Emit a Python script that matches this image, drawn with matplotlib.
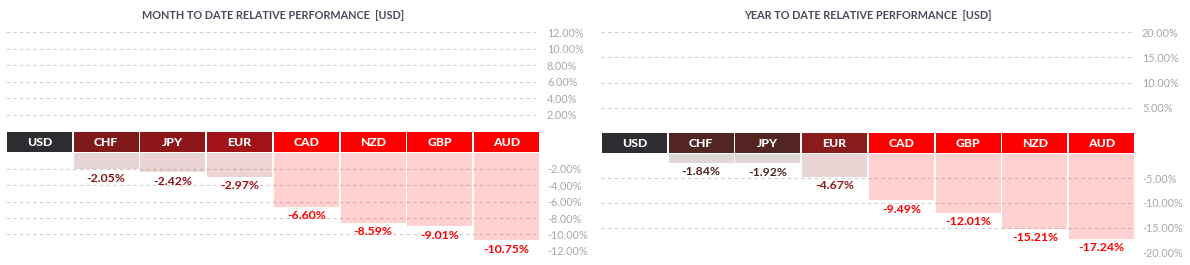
import numpy as np
import matplotlib
matplotlib.use('Agg')
import matplotlib.pyplot as plt
from matplotlib import font_manager as fm

plt.rcParams['font.family'] = ['Lato', 'DejaVu Sans']

# month to date
mtd_ccy = ['USD', 'CHF', 'JPY', 'EUR', 'CAD', 'NZD', 'GBP', 'AUD']
mtd_val = [0.0, -2.05, -2.42, -2.97, -6.60, -8.59, -9.01, -10.75]
mtd_colors = ['#2e2c30', '#7f1a1a', '#8e1619', '#a01418', '#ff0000', '#ff0000', '#ff0000', '#ff0000']
mtd_pos_ticks = [2, 4, 6, 8, 10, 12]
mtd_neg_ticks = [-2, -4, -6, -8, -10, -12]

# year to date
ytd_ccy = ['USD', 'CHF', 'JPY', 'EUR', 'CAD', 'GBP', 'NZD', 'AUD']
ytd_val = [0.0, -1.84, -1.92, -4.67, -9.49, -12.01, -15.21, -17.24]
ytd_colors = ['#2e2c30', '#522422', '#522422', '#8b1a1a', '#ff0000', '#ff0000', '#ff0000', '#ff0000']
ytd_pos_ticks = [5, 10, 15, 20]
ytd_neg_ticks = [-5, -10, -15, -20]

GRID = '#cfcfcf'
TICK = '#a8a8a8'


def lato(fname, size):
    for f in fm.fontManager.ttflist:
        if f.fname.endswith(fname):
            return fm.FontProperties(fname=f.fname, size=size)
    return fm.FontProperties(family='DejaVu Sans', size=size)


HEAD_FONT = lato('Lato-Black.ttf', 8.8)
VAL_FONT = lato('Lato-Bold.ttf', 8.8)
TITLE_FONT = lato('Lato-Bold.ttf', 7.8)
TICK_FONT = lato('Lato-Regular.ttf', 7.8)


def style_axis(ax, ticks, lim):
    ax.set_xlim(-0.5, 7.5)
    ax.set_ylim(*lim)
    ax.set_yticks(ticks)
    ax.set_yticklabels(['%.2f%%' % t for t in ticks], fontproperties=TICK_FONT)
    ax.yaxis.tick_right()
    ax.tick_params(axis='y', length=0, pad=5, labelcolor=TICK)
    ax.set_xticks([])
    for s in ax.spines.values():
        s.set_visible(False)
    ax.yaxis.grid(True, color=GRID, linestyle=(0, (3, 3)), linewidth=0.8)
    ax.set_axisbelow(True)
    ax.patch.set_alpha(0)


def panel(fig, left, width, rows, title, ccy, vals, colors, pos_ticks, neg_ticks):
    top_rect, head_rect, bot_rect = rows
    top = fig.add_axes([left, top_rect[0], width, top_rect[1]])
    style_axis(top, pos_ticks, (0, pos_ticks[-1]))

    bot = fig.add_axes([left, bot_rect[0], width, bot_rect[1]])
    style_axis(bot, neg_ticks, (neg_ticks[-1], 0))
    x = np.arange(len(ccy))
    bot.bar(x, vals, width=0.974, color=colors, alpha=0.18, linewidth=0, align='center')
    for i, v in enumerate(vals):
        if v == 0:
            continue
        bot.annotate('%.2f%%' % v, (x[i], v), xytext=(0, -2.5), textcoords='offset points',
                     ha='center', va='top', fontproperties=VAL_FONT, color=colors[i])

    head = fig.add_axes([left, head_rect[0], width, head_rect[1]])
    head.set_xlim(-0.5, 7.5)
    head.set_ylim(0, 1)
    head.axis('off')
    head.bar(x, [1] * len(ccy), width=0.974, color=colors, linewidth=0, align='center')
    for i, c in enumerate(ccy):
        head.text(x[i], 0.5, c, ha='center', va='center', color='white',
                  fontproperties=HEAD_FONT)

    fig.text(left + width / 2, 0.943, title, ha='center', va='center',
             fontproperties=TITLE_FONT, color='#4a4b5a')


fig = plt.figure(figsize=(11.9, 2.65), dpi=100)
panel(fig, 0.00504, 0.4487, ((0.5038, 0.3743), (0.4264, 0.0755), (0.054, 0.370)),
      'MONTH TO DATE RELATIVE PERFORMANCE  [USD]',
      mtd_ccy, mtd_val, mtd_colors, mtd_pos_ticks, mtd_neg_ticks)
panel(fig, 0.50504, 0.4487, ((0.4989, 0.379), (0.4226, 0.0755), (0.048, 0.3725)),
      'YEAR TO DATE RELATIVE PERFORMANCE  [USD]',
      ytd_ccy, ytd_val, ytd_colors, ytd_pos_ticks, ytd_neg_ticks)
fig.savefig('out.png', dpi=100)
